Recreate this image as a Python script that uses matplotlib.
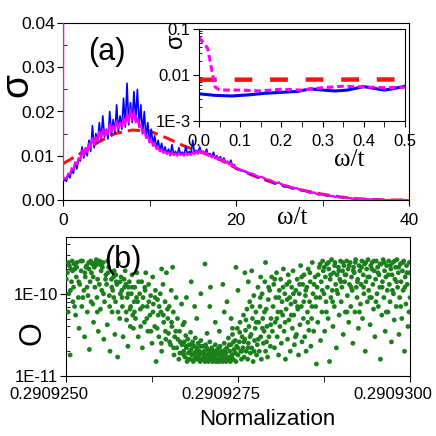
import numpy as np
import matplotlib
matplotlib.use("Agg")
import matplotlib.pyplot as plt
import matplotlib.transforms as mtransforms
from matplotlib.ticker import MultipleLocator, FixedLocator, LogLocator, NullFormatter

plt.rcParams['font.family'] = ['Liberation Sans', 'DejaVu Sans']

# ---------------- panel (a): conductivity vs omega ----------------
# fine grid 0..20 (step 0.2) then coarse 20.5..40 (step 0.5)
omega = np.concatenate([np.arange(0, 20.01, 0.2), np.arange(20.5, 40.01, 0.5)])

sigma_blue = [
    0.0040, 0.0048, 0.0042, 0.0058, 0.0050,
    0.0068, 0.0060, 0.0085, 0.0070, 0.0092,
    0.0088, 0.0120, 0.0095, 0.0112, 0.0100,
    0.0135, 0.0110, 0.0168, 0.0118, 0.0150,
    0.0128, 0.0175, 0.0135, 0.0190, 0.0142,
    0.0160, 0.0138, 0.0200, 0.0148, 0.0182,
    0.0150, 0.0215, 0.0155, 0.0190, 0.0160,
    0.0230, 0.0165, 0.0264, 0.0170, 0.0220,
    0.0175, 0.0245, 0.0180, 0.0250, 0.0165,
    0.0215, 0.0150, 0.0200, 0.0140, 0.0175,
    0.0130, 0.0160, 0.0125, 0.0145, 0.0118,
    0.0135, 0.0112, 0.0128, 0.0108, 0.0120,
    0.0104, 0.0115, 0.0100, 0.0125, 0.0102,
    0.0110, 0.0100, 0.0118, 0.0102, 0.0108,
    0.0100, 0.0122, 0.0101, 0.0110, 0.0103,
    0.0135, 0.0104, 0.0112, 0.0105, 0.0120,
    0.0106, 0.0110, 0.0104, 0.0115, 0.0100,
    0.0105, 0.0097, 0.0108, 0.0094, 0.0100,
    0.0090, 0.0098, 0.0087, 0.0095, 0.0084,
    0.0088, 0.0080, 0.0090, 0.0076, 0.0080,
    0.0070,
    0.0068, 0.0064, 0.0060, 0.0058, 0.0050, 0.0052, 0.0045, 0.0044, 0.0036, 0.0040,
    0.0030, 0.0031, 0.0025, 0.0027, 0.0021, 0.0020, 0.0016, 0.0017, 0.0012, 0.0013,
    0.0009, 0.0010, 0.0007, 0.0007, 0.0005, 0.0005, 0.0003, 0.0003, 0.0002, 0.0002,
    0.0001, 0.0001, 0.0001, 0.0000, 0.0000, 0.0000, 0.0000, 0.0000, 0.0000, 0.0000,
]

sigma_mag = [
    0.0045, 0.0050, 0.0048, 0.0060, 0.0058,
    0.0072, 0.0068, 0.0085, 0.0080, 0.0095,
    0.0092, 0.0112, 0.0100, 0.0118, 0.0108,
    0.0128, 0.0118, 0.0140, 0.0125, 0.0142,
    0.0132, 0.0155, 0.0140, 0.0160, 0.0145,
    0.0158, 0.0148, 0.0172, 0.0155, 0.0168,
    0.0158, 0.0178, 0.0162, 0.0175, 0.0165,
    0.0185, 0.0170, 0.0195, 0.0175, 0.0205,
    0.0180, 0.0200, 0.0175, 0.0185, 0.0165,
    0.0170, 0.0150, 0.0158, 0.0140, 0.0145,
    0.0130, 0.0135, 0.0122, 0.0128, 0.0115,
    0.0118, 0.0110, 0.0115, 0.0106, 0.0110,
    0.0104, 0.0108, 0.0102, 0.0107, 0.0101,
    0.0105, 0.0100, 0.0106, 0.0101, 0.0104,
    0.0100, 0.0106, 0.0101, 0.0105, 0.0102,
    0.0108, 0.0103, 0.0110, 0.0104, 0.0112,
    0.0106, 0.0110, 0.0104, 0.0108, 0.0100,
    0.0102, 0.0096, 0.0100, 0.0094, 0.0097,
    0.0090, 0.0094, 0.0087, 0.0091, 0.0084,
    0.0086, 0.0080, 0.0084, 0.0076, 0.0078,
    0.0072,
    0.0068, 0.0066, 0.0061, 0.0059, 0.0053, 0.0052, 0.0047, 0.0045, 0.0039, 0.0039,
    0.0033, 0.0032, 0.0027, 0.0027, 0.0022, 0.0021, 0.0017, 0.0017, 0.0013, 0.0013,
    0.0010, 0.0009, 0.0007, 0.0006, 0.0005, 0.0004, 0.0003, 0.0003, 0.0002, 0.0002,
    0.0001, 0.0001, 0.0001, 0.0000, 0.0000, 0.0000, 0.0000, 0.0000, 0.0000, 0.0000,
]
# magenta curve shoots up at omega -> 0 (see inset)
omega_mag_start = [0.0, 0.02]
sigma_mag_start = [0.066, 0.038]

omega_red = [0, 2, 4, 6, 8, 10, 12, 14, 16, 18, 20, 22, 24, 26, 28, 30, 32, 34, 36, 38, 40]
sigma_red = [0.0082, 0.0105, 0.0130, 0.0150, 0.0158, 0.0156, 0.0140, 0.0122, 0.0108, 0.0093,
             0.0072, 0.0055, 0.0041, 0.0030, 0.0021, 0.0013, 0.0007, 0.0003, 0.0001, 0.0, 0.0]

# inset (low frequency, log scale)
inset_w_blue = [0.0, 0.04, 0.08, 0.12, 0.16, 0.2, 0.24, 0.27, 0.3, 0.33, 0.36, 0.4, 0.42, 0.45, 0.47, 0.5]
inset_blue = [0.0039, 0.0036, 0.0035, 0.0037, 0.0040, 0.0042, 0.0044, 0.0050, 0.0047, 0.0045,
              0.0047, 0.0056, 0.0052, 0.0047, 0.0050, 0.0057]
inset_w_mag = [0.0, 0.021, 0.039, 0.05, 0.1, 0.15, 0.2, 0.25, 0.3, 0.35, 0.4, 0.45, 0.5]
inset_mag = [0.066, 0.038, 0.0055, 0.0047, 0.0047, 0.0045, 0.0049, 0.0047, 0.0053, 0.0057,
             0.0055, 0.0053, 0.0054]
inset_w_red = [0.0, 0.5]
inset_red = [0.0079, 0.0080]

# ---------------- panel (b): O vs normalization ----------------
# (offset from 0.2909250 in units of 1e-7, O in units of 1e-11)
scatter_pts = [
    (0.2, 18), (0.3, 6), (0.4, 10), (0.5, 22), (0.6, 1.8), (0.8, 14), (0.9, 25), (1.0, 8), (1.1, 12),
    (1.3, 20), (1.4, 5.5), (1.5, 16), (1.6, 24), (1.8, 9), (1.9, 3.8), (2.0, 13), (2.2, 19), (2.3, 7),
    (2.4, 25), (2.6, 11), (2.7, 3.0), (2.8, 16), (3.0, 22), (3.1, 6), (3.2, 9.5), (3.4, 2.1), (3.5, 14),
    (3.6, 25), (3.7, 18), (3.9, 7.5), (4.0, 4.5), (4.1, 21), (4.2, 12), (4.4, 26), (4.5, 9), (4.6, 15),
    (4.7, 3.5), (4.8, 23), (5.0, 6.5), (5.1, 19), (5.2, 11), (5.4, 24), (5.5, 2.8), (5.6, 8), (5.8, 17),
    (5.9, 13), (6.0, 4.2), (6.2, 21), (6.3, 9.5), (6.4, 2.0), (6.6, 15), (6.7, 6), (6.8, 11), (7.0, 19),
    (7.1, 3.2), (7.2, 8), (7.4, 13), (7.5, 1.7), (7.6, 24), (7.8, 5), (7.9, 10), (8.0, 16), (8.2, 7),
    (8.3, 3.0), (8.5, 12), (8.6, 19), (8.8, 4.8), (8.9, 9), (9.0, 2.3), (9.2, 14), (9.3, 6.5), (9.5, 10),
    (9.6, 17), (9.8, 3.8), (9.9, 8),
    (3.3, 24), (3.8, 23), (4.3, 22), (4.9, 25), (2.9, 21), (1.2, 23), (0.7, 20), (5.3, 21), (6.1, 18),
    (6.9, 16), (7.3, 14), (8.1, 11), (8.7, 13), (9.1, 12), (9.4, 7), (9.7, 5.5),
    (0.05, 15), (0.35, 24), (0.65, 11), (0.95, 19), (1.25, 7), (1.55, 21), (1.85, 14), (2.15, 25),
    (2.45, 9), (2.75, 18), (3.05, 12), (3.35, 20), (3.65, 8), (3.95, 16), (4.25, 24), (4.55, 6),
    (4.85, 13), (5.15, 22), (5.45, 10), (5.75, 15), (6.05, 25), (6.35, 7), (6.65, 12), (6.95, 9),
    (7.25, 17), (7.55, 6), (7.85, 14), (8.15, 9), (8.45, 15), (8.75, 6), (9.05, 10), (9.35, 4),
    (9.65, 12), (9.95, 6),
    (10.0, 12), (10.1, 5), (10.3, 18), (10.4, 8), (10.5, 3), (10.7, 10), (10.8, 6.5), (11.0, 14),
    (11.1, 2.2), (11.2, 9), (11.4, 4.5), (11.5, 11), (11.6, 18), (11.8, 7), (11.9, 3.5), (12.0, 13),
    (12.2, 5.5), (12.3, 9.5), (12.5, 2.5), (12.6, 16), (12.7, 7.5), (12.9, 4), (13.0, 11), (13.1, 1.5),
    (13.3, 8.5), (13.4, 5.5), (13.5, 3), (13.7, 10), (13.8, 6), (13.9, 2), (14.1, 13), (14.2, 4.5),
    (14.4, 8), (14.5, 2.8), (14.6, 18), (14.8, 5), (14.9, 3.3), (15.0, 7), (15.2, 2.4), (15.3, 11),
    (15.4, 4), (15.6, 6), (15.7, 1.8), (15.8, 3), (16.0, 9), (16.1, 2.2), (16.2, 5), (16.4, 1.6),
    (16.5, 3.5), (16.6, 2.6), (16.8, 7.5), (16.9, 1.9), (17.0, 4.2), (15.5, 21), (13.9, 20),
    (10.25, 9), (10.55, 14), (10.85, 4), (11.15, 7), (11.45, 12), (11.75, 5), (12.05, 8), (12.35, 3.5),
    (12.65, 6), (12.95, 9), (13.25, 3.8), (13.55, 7), (13.85, 2.5), (14.15, 5.5), (14.45, 3.5),
    (14.75, 6.5), (15.05, 2.6), (15.35, 4.5), (15.65, 2.2), (15.95, 3.5), (16.25, 2.8), (16.55, 1.9),
    (16.85, 2.4),
    (17.1, 2.0), (17.2, 2.6), (17.3, 1.7), (17.4, 3.1), (17.5, 2.2), (17.6, 1.5), (17.7, 2.8), (17.8, 1.9),
    (17.9, 2.4), (18.0, 1.6), (18.1, 3.4), (18.2, 2.1), (18.3, 1.8), (18.4, 2.6), (18.5, 1.5), (18.6, 2.3),
    (18.7, 1.9), (18.8, 2.9), (18.9, 1.7), (19.0, 2.2), (19.1, 1.6), (19.2, 2.5), (19.3, 1.8), (19.4, 2.0),
    (19.5, 1.5), (19.6, 2.7), (19.7, 1.9), (19.8, 1.6), (19.9, 2.3), (20.0, 1.7), (20.1, 2.0), (20.2, 1.5),
    (20.3, 2.4), (20.4, 1.8), (20.5, 1.6), (20.6, 2.1), (20.7, 1.5), (20.8, 1.9), (20.9, 2.6), (21.0, 1.6),
    (21.1, 1.8), (21.2, 2.2), (21.3, 1.5), (21.4, 1.7), (21.5, 2.0), (21.6, 1.6), (21.7, 2.4), (21.8, 1.5),
    (21.9, 1.8), (22.0, 2.1), (22.1, 1.6), (22.2, 1.9), (22.3, 1.5), (22.4, 2.3), (22.5, 1.7), (22.6, 1.6),
    (22.7, 2.0), (22.8, 1.5), (22.9, 1.8), (23.0, 2.5), (23.1, 1.6), (23.2, 1.9), (23.3, 1.5), (23.4, 2.2),
    (23.5, 1.7), (23.6, 2.9), (23.7, 1.6), (23.8, 2.0), (23.9, 1.5), (24.0, 2.4), (24.1, 1.8), (24.2, 3.2),
    (24.3, 1.6), (24.4, 2.1), (24.5, 1.9), (24.6, 2.7), (24.7, 1.5), (24.8, 2.3), (24.9, 3.8), (25.0, 1.8),
    (25.2, 2.6), (25.3, 4.5), (25.4, 2.0), (25.5, 1.6), (25.6, 3.0), (25.7, 2.2), (25.8, 5.5), (25.9, 1.7),
    (26.0, 2.8), (26.1, 3.6), (26.2, 2.0), (26.3, 6.5), (26.4, 1.6), (26.5, 2.5), (26.6, 4), (26.7, 8),
    (26.8, 1.9), (26.9, 3.2), (27.0, 2.2), (27.1, 5), (27.2, 1.5), (27.3, 9.5), (27.4, 2.7), (27.5, 3.8),
    (27.6, 6), (27.7, 1.8), (27.8, 2.4), (27.9, 12), (28.0, 4.5), (28.1, 2.0), (28.2, 7), (28.3, 3),
    (28.4, 1.6), (28.5, 10), (28.6, 5), (28.7, 2.5), (28.8, 3.5), (28.9, 14), (29.0, 2.0), (29.1, 6.5),
    (29.2, 4), (29.3, 1.7), (29.4, 8.5), (29.5, 3), (29.6, 11), (29.7, 2.3), (29.8, 5), (29.9, 16),
    (30.0, 3.5),
    (17.5, 9), (18.2, 14), (19.0, 5), (19.6, 10), (20.2, 23), (20.9, 7), (21.7, 4.5), (22.3, 3.5),
    (22.8, 13), (23.4, 8), (24.2, 3.8), (24.7, 21), (25.0, 11), (26.0, 18), (26.5, 14), (27.0, 19),
    (28.3, 16), (29.0, 24), (18.7, 7), (21.0, 12), (23.0, 6), (24.0, 5), (17.2, 4.5), (20.5, 3.3),
    (17.15, 1.8), (17.45, 2.3), (17.75, 1.6), (18.05, 2.0), (18.35, 2.4), (18.65, 1.6), (18.95, 2.0),
    (19.25, 1.7), (19.55, 2.3), (19.85, 1.9), (20.15, 1.6), (20.45, 2.2), (20.75, 1.7), (21.05, 2.0),
    (21.35, 1.6), (21.65, 1.9), (21.95, 1.5), (22.25, 2.2), (22.55, 1.8), (22.85, 1.6), (23.15, 2.1),
    (23.45, 1.6), (23.75, 2.4), (24.05, 1.7), (24.35, 2.6), (24.65, 1.9), (24.95, 2.2), (25.25, 3.4),
    (25.55, 2.0), (25.85, 2.6), (26.15, 4.8), (26.45, 2.2), (26.75, 3.0), (27.05, 7), (27.35, 2.0),
    (27.65, 4.5), (27.95, 2.8), (28.25, 9), (28.55, 3.8), (28.85, 6), (29.15, 2.6), (29.45, 12),
    (29.75, 4.2),
    (30.1, 7), (30.2, 13), (30.3, 2.2), (30.4, 4.5), (30.5, 9), (30.6, 18), (30.7, 3), (30.8, 6),
    (30.9, 1.8), (31.0, 11), (31.1, 4), (31.2, 15), (31.3, 2.5), (31.4, 8), (31.5, 5.5), (31.6, 20),
    (31.7, 3.5), (31.8, 10), (31.9, 1.6), (32.0, 6.5), (32.1, 13), (32.2, 2.8), (32.3, 17), (32.4, 4.8),
    (32.5, 9), (32.6, 2.0), (32.7, 7.5), (32.8, 12), (32.9, 3.8), (33.0, 19), (33.1, 5.5), (33.2, 2.4),
    (33.3, 8), (33.4, 11), (33.5, 3.2), (33.6, 15), (33.7, 6.5), (33.8, 1.8), (33.9, 10), (34.0, 4.2),
    (34.1, 22), (34.2, 7), (34.3, 2.6), (34.4, 13), (34.5, 5), (34.6, 17), (34.7, 3), (34.8, 9.5),
    (34.9, 2), (35.0, 12), (35.1, 6), (35.2, 20), (35.3, 3.6), (35.4, 8), (35.5, 14), (35.6, 2.3),
    (35.7, 5), (35.8, 24), (35.9, 10), (36.0, 3.5), (36.2, 16), (36.3, 7), (36.4, 1.4), (36.5, 12),
    (36.6, 4.5), (36.8, 21), (36.9, 9), (37.0, 2.7),
    (30.35, 15), (30.65, 5), (30.95, 9), (31.25, 6), (31.55, 12), (31.85, 4.5), (32.15, 8.5),
    (32.45, 14), (32.75, 5.5), (33.05, 10), (33.35, 3), (33.65, 7), (33.95, 13), (34.25, 16),
    (34.55, 8), (34.85, 11), (35.15, 4.5), (35.45, 18), (35.75, 7), (36.05, 13), (36.35, 9),
    (36.65, 17), (36.95, 23),
    (37.1, 14), (37.2, 6), (37.3, 25), (37.4, 19), (37.5, 10), (37.6, 3.5), (37.7, 16), (37.8, 8),
    (37.9, 23), (38.0, 12), (38.1, 5), (38.2, 20), (38.3, 1.5), (38.4, 15), (38.5, 9), (38.6, 26),
    (38.7, 11), (38.8, 4), (38.9, 18), (39.0, 7), (39.1, 24), (39.2, 13), (39.3, 2.2), (39.4, 17),
    (39.5, 10), (39.6, 21), (39.7, 5.5), (39.8, 15), (39.9, 25), (40.0, 8), (40.1, 12), (40.2, 19),
    (40.3, 3.2), (40.4, 22), (40.5, 14), (40.6, 6), (40.7, 17), (40.8, 25), (40.9, 9.5), (41.0, 20),
    (41.1, 4.5), (41.2, 13), (41.3, 24), (41.4, 7), (41.5, 16), (41.6, 11), (41.7, 2.5), (41.8, 21),
    (41.9, 18), (42.0, 6), (42.1, 26), (42.2, 12), (42.3, 9), (42.4, 15), (42.5, 3.8), (42.6, 22),
    (42.7, 19), (42.8, 7.5), (42.9, 13), (43.0, 25), (43.1, 5), (43.2, 17), (43.3, 10), (43.4, 23),
    (43.5, 2), (43.6, 14), (43.7, 20), (43.8, 8), (43.9, 26), (44.0, 11), (44.1, 16), (44.2, 4.2),
    (44.3, 22), (44.4, 9), (44.5, 24), (44.6, 13), (44.7, 6.5), (44.8, 19), (44.9, 3), (45.0, 15),
    (45.1, 25), (45.2, 10), (45.3, 21), (45.4, 7), (45.5, 17), (45.6, 12), (45.7, 1.6), (45.8, 23),
    (45.9, 5.5), (46.0, 14), (46.1, 26), (46.2, 9), (46.3, 19), (46.4, 3.5), (46.5, 16), (46.6, 22),
    (46.7, 11), (46.8, 6), (46.9, 25), (47.0, 13), (47.1, 8), (47.2, 20), (47.3, 2.6), (47.4, 17),
    (47.5, 24), (47.6, 10), (47.7, 4.8), (47.8, 15), (47.9, 21), (48.0, 7), (48.1, 26), (48.2, 12),
    (48.3, 18), (48.4, 3.2), (48.5, 9), (48.6, 23), (48.7, 14), (48.8, 5), (48.9, 19), (49.0, 11),
    (49.1, 25), (49.2, 2), (49.3, 16), (49.4, 7.5), (49.5, 22), (49.6, 13), (49.7, 4), (49.8, 18),
    (49.9, 24), (50.0, 9),
    (37.25, 11), (37.55, 21), (37.85, 6), (38.15, 24), (38.45, 17), (38.75, 8), (39.05, 22),
    (39.35, 11), (39.65, 19), (39.95, 14), (40.25, 24), (40.55, 17), (40.85, 6), (41.15, 22),
    (41.45, 12), (41.75, 19), (42.05, 24), (42.35, 14), (42.65, 6), (42.95, 21), (43.25, 12),
    (43.55, 24), (43.85, 16), (44.15, 9), (44.45, 20), (44.75, 25), (45.05, 8), (45.35, 18),
    (45.65, 23), (45.95, 12), (46.25, 24), (46.55, 6), (46.85, 17), (47.15, 22), (47.45, 11),
    (47.75, 25), (48.05, 14), (48.35, 21), (48.65, 7), (48.95, 24), (49.25, 12), (49.55, 18),
    (49.85, 6),
]
norm_ticks = [0.2909250, 0.2909275, 0.2909300]
norm_ticklabels = ["0.2909250", "0.2909275", "0.2909300"]

W = 436.0


def fx(px):
    return px / W


def fy(py):
    return 1 - py / W


fig = plt.figure(figsize=(4.36, 4.36), dpi=100)

# panel (a)
ax1 = fig.add_axes([fx(63), fy(200), (409 - 63) / W, (200 - 23) / W])
ax1.plot(omega_red, sigma_red, color='#ff1010', lw=2.2, dashes=(4, 2))
ax1.plot(omega, sigma_blue, color='#0000ff', lw=1.2)
ax1.plot(omega_mag_start + list(omega), sigma_mag_start + sigma_mag, color='#ff00ff', lw=1.5, zorder=3)
ax1.set_xlim(0, 40)
ax1.set_ylim(0, 0.04)
ax1.set_xticks([0, 20, 40])
ax1.xaxis.set_minor_locator(FixedLocator([10, 30]))
ax1.set_yticks([0, 0.01, 0.02, 0.03, 0.04])
ax1.set_yticklabels(["0.00", "0.01", "0.02", "0.03", "0.04"])
ax1.yaxis.set_minor_locator(MultipleLocator(0.005))
ax1.tick_params(which='major', direction='out', length=4, labelsize=12.5, pad=2)
ax1.tick_params(axis='x', which='minor', direction='out', length=4)
ax1.tick_params(axis='y', which='minor', direction='in', length=3)
ax1.tick_params(axis='x', pad=5)

# inset
ax_in = fig.add_axes([fx(199), fy(121), (405 - 199) / W, (121 - 29) / W])
ax_in.plot(inset_w_red, inset_red, color='#ff1010', lw=3.2, dashes=(4, 4))
ax_in.plot(inset_w_blue, inset_blue, color='#0000ff', lw=2.2)
ax_in.plot(inset_w_mag, inset_mag, color='#ff00ff', lw=2.2, dashes=(2.2, 1.2))
ax_in.set_yscale('log')
ax_in.set_xlim(0, 0.5)
ax_in.set_ylim(1e-3, 0.1)
ax_in.set_xticks([0, 0.1, 0.2, 0.3, 0.4, 0.5])
ax_in.set_xticklabels(["0.0", "0.1", "0.2", "0.3", "0.4", "0.5"])
ax_in.xaxis.set_minor_locator(MultipleLocator(0.05))
ax_in.set_yticks([1e-3, 1e-2, 1e-1])
ax_in.set_yticklabels(["1E-3", "0.01", "0.1"])
ax_in.yaxis.set_minor_locator(LogLocator(base=10, subs=np.arange(2, 10)))
ax_in.yaxis.set_minor_formatter(NullFormatter())
ax_in.tick_params(which='major', direction='out', length=4, labelsize=12, pad=2)
ax_in.tick_params(axis='x', which='minor', direction='out', length=4)
ax_in.tick_params(axis='y', which='minor', direction='in', length=2.5)
ax_in.tick_params(axis='x', pad=5)

# panel (b)
ax2 = fig.add_axes([fx(66), fy(376), (410 - 66) / W, (376 - 237) / W])
xs = [norm_ticks[0] + u * 1e-7 for u, o in scatter_pts]
ys = [o * 1e-11 for u, o in scatter_pts]
ax2.scatter(xs, ys, s=12, color='#1a801a', edgecolors='none', zorder=3)
ax2.set_yscale('log')
ax2.set_xlim(norm_ticks[0], norm_ticks[-1])
ax2.set_ylim(1e-11, 4.9e-10)
ax2.set_xticks(norm_ticks)
ax2.set_xticklabels(norm_ticklabels)
ax2.xaxis.set_minor_locator(FixedLocator([0.29092625, 0.29092875]))
ax2.set_yticks([1e-11, 1e-10])
ax2.set_yticklabels(["1E-11", "1E-10"])
ax2.yaxis.set_minor_locator(LogLocator(base=10, subs=np.arange(2, 10)))
ax2.yaxis.set_minor_formatter(NullFormatter())
ax2.tick_params(which='major', direction='out', length=4, labelsize=12, pad=2)
ax2.tick_params(axis='x', which='minor', direction='out', length=4)
ax2.tick_params(axis='y', which='minor', direction='in', length=3)
ax2.tick_params(axis='x', pad=4)
# the original's x tick labels sit a bit left of their ticks
shift = mtransforms.ScaledTranslation(-0.17, 0, fig.dpi_scale_trans)
for lab in ax2.get_xticklabels():
    lab.set_transform(lab.get_transform() + shift)

# labels as free text (they sit at fixed spots in the original)
fig.text(fx(107), fy(52), '(a)', fontsize=22, ha='center', va='center')
fig.text(fx(123), fy(260), '(b)', fontsize=22, ha='center', va='center')
fig.text(fx(17), fy(85), 'σ', fontsize=28, rotation=90, ha='center', va='center')
fig.text(fx(176), fy(41), 'σ', fontsize=17, rotation=90, ha='center', va='center')
fig.text(fx(292), fy(218), 'ω/t', fontsize=18, family='Liberation Serif', ha='center', va='center')
fig.text(fx(349), fy(160), 'ω/t', fontsize=18, family='Liberation Serif', ha='center', va='center')
fig.text(fx(32), fy(333), 'O', fontsize=22, rotation=90, ha='center', va='center')
fig.text(fx(267), fy(419), 'Normalization', fontsize=16, ha='center', va='center')

fig.savefig('out.png', dpi=100)
